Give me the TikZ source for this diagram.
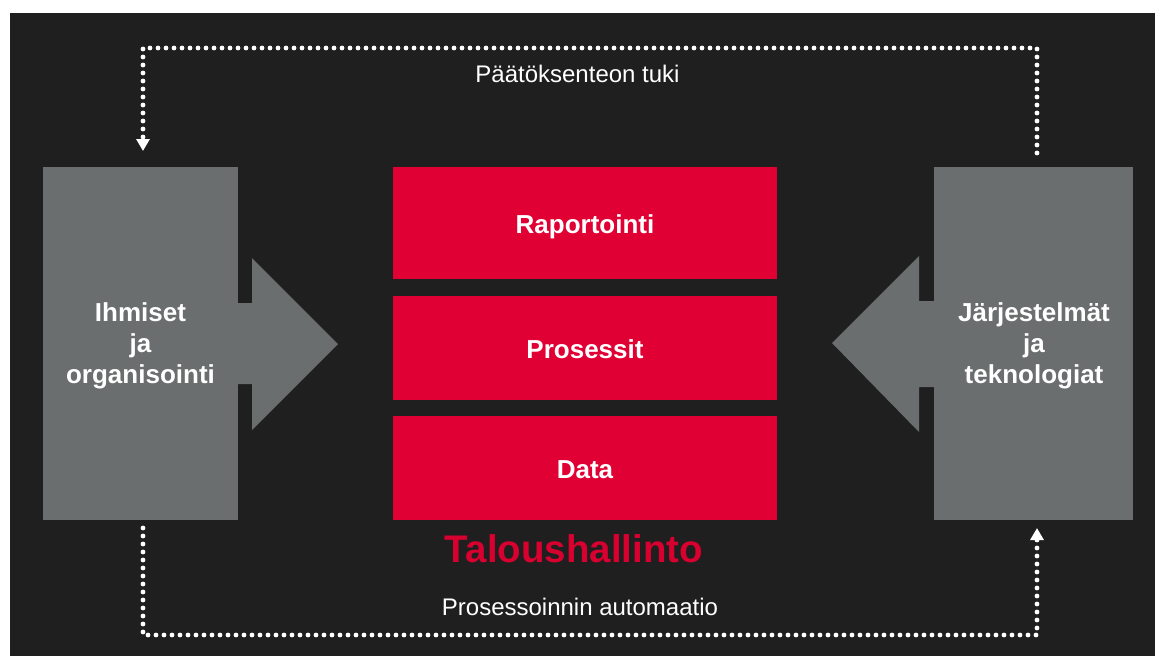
\documentclass[tikz,border=0pt]{standalone}
\usepackage{fontspec}
\setmainfont{Liberation Sans}
\usepackage{tikz}
\usetikzlibrary{arrows.meta}
\usepackage{xcolor}
\definecolor{tausta}{HTML}{1F1F1F}
\definecolor{harmaa}{HTML}{6B6E6E}
\definecolor{punainen}{HTML}{E00034}
\definecolor{otsikko}{HTML}{D8002F}

\begin{document}
\begin{tikzpicture}[x=1pt, y=-1pt,
    harmaalaatikko/.style={fill=harmaa, inner sep=0pt, outer sep=0pt, align=center, text=white,
        font=\bfseries\fontsize{26}{31}\selectfont},
    punalaatikko/.style={fill=punainen, inner sep=0pt, outer sep=0pt, minimum width=384pt, text=white,
        font=\bfseries\fontsize{26}{31}\selectfont},
    pisteet/.style={white, line width=4.8pt, line cap=round, dash pattern=on 0pt off 8pt},
    teksti/.style={text=white, anchor=base, font=\fontsize{24}{28}\selectfont}]
    % Tausta
    \useasboundingbox (0,0) rectangle (1155,656);
    \fill[white] (0,0) rectangle (1155,656);
    \fill[tausta] (10,13) rectangle (1155,656);
    % Sivulaatikot
    \node[harmaalaatikko, minimum width=195pt, minimum height=353pt] (ihmiset) at (140.5,343.5) {};
    \node[harmaalaatikko, minimum width=199pt, minimum height=353pt] (jarj) at (1033.5,343.5) {};
    \node[harmaalaatikko, fill=none] (ihmisetteksti) at (140.5,346) {Ihmiset\\ja\\organisointi};
    \node[harmaalaatikko, fill=none] (jarjteksti) at (1034,346) {Järjestelmät\\ja\\teknologiat};
    % Nuolet
    \fill[harmaa] (236,303) -- (252,303) -- (252,258) -- (338,344) -- (252,430) -- (252,384) -- (236,384) -- cycle;
    \fill[harmaa] (936,301) -- (919,301) -- (919,256) -- (832,343) -- (919,432) -- (919,387) -- (936,387) -- cycle;
    % Keskilaatikot
    \node[punalaatikko, minimum height=112pt] (raportointi) at (585,223) {};
    \node[punalaatikko, minimum height=104pt] (prosessit) at (585,348) {};
    \node[punalaatikko, minimum height=104pt] (data) at (585,468) {};
    \node[punalaatikko, fill=none, minimum width=0pt, anchor=base] (raportointiteksti) at (585,233) {Raportointi};
    \node[punalaatikko, fill=none, minimum width=0pt, anchor=base] (prosessitteksti) at (585,358) {Prosessit};
    \node[punalaatikko, fill=none, minimum width=0pt, anchor=base] (datateksti) at (585,478) {Data};
    \node[anchor=base, text=otsikko, font=\bfseries\fontsize{38.5}{44}\selectfont] (talous) at (574,562) {Taloushallinto};
    % Pisteviivat
    \coordinate (ylaoik) at (1037,48);
    \coordinate (ylavas) at (143,48);
    \coordinate (alavas) at (143,635);
    \coordinate (alaoik) at (1037,635);
    \draw[pisteet, -{Triangle[width=13pt,length=12pt]}] ([xshift=3.5pt,yshift=14pt]jarj.north) -- (ylaoik) -- (ylavas) -- ([xshift=2.5pt,yshift=16pt]ihmiset.north);
    \draw[pisteet, -{Triangle[width=13pt,length=12pt]}] ([xshift=2.5pt,yshift=-8pt]ihmiset.south) -- (alavas) -- (alaoik) -- ([xshift=3.5pt,yshift=-8pt]jarj.south);
    \node[teksti] (tuki) at (577.5,82) {Päätöksenteon tuki};
    \node[teksti] (automaatio) at (580,615) {Prosessoinnin automaatio};
\end{tikzpicture}
\end{document}
